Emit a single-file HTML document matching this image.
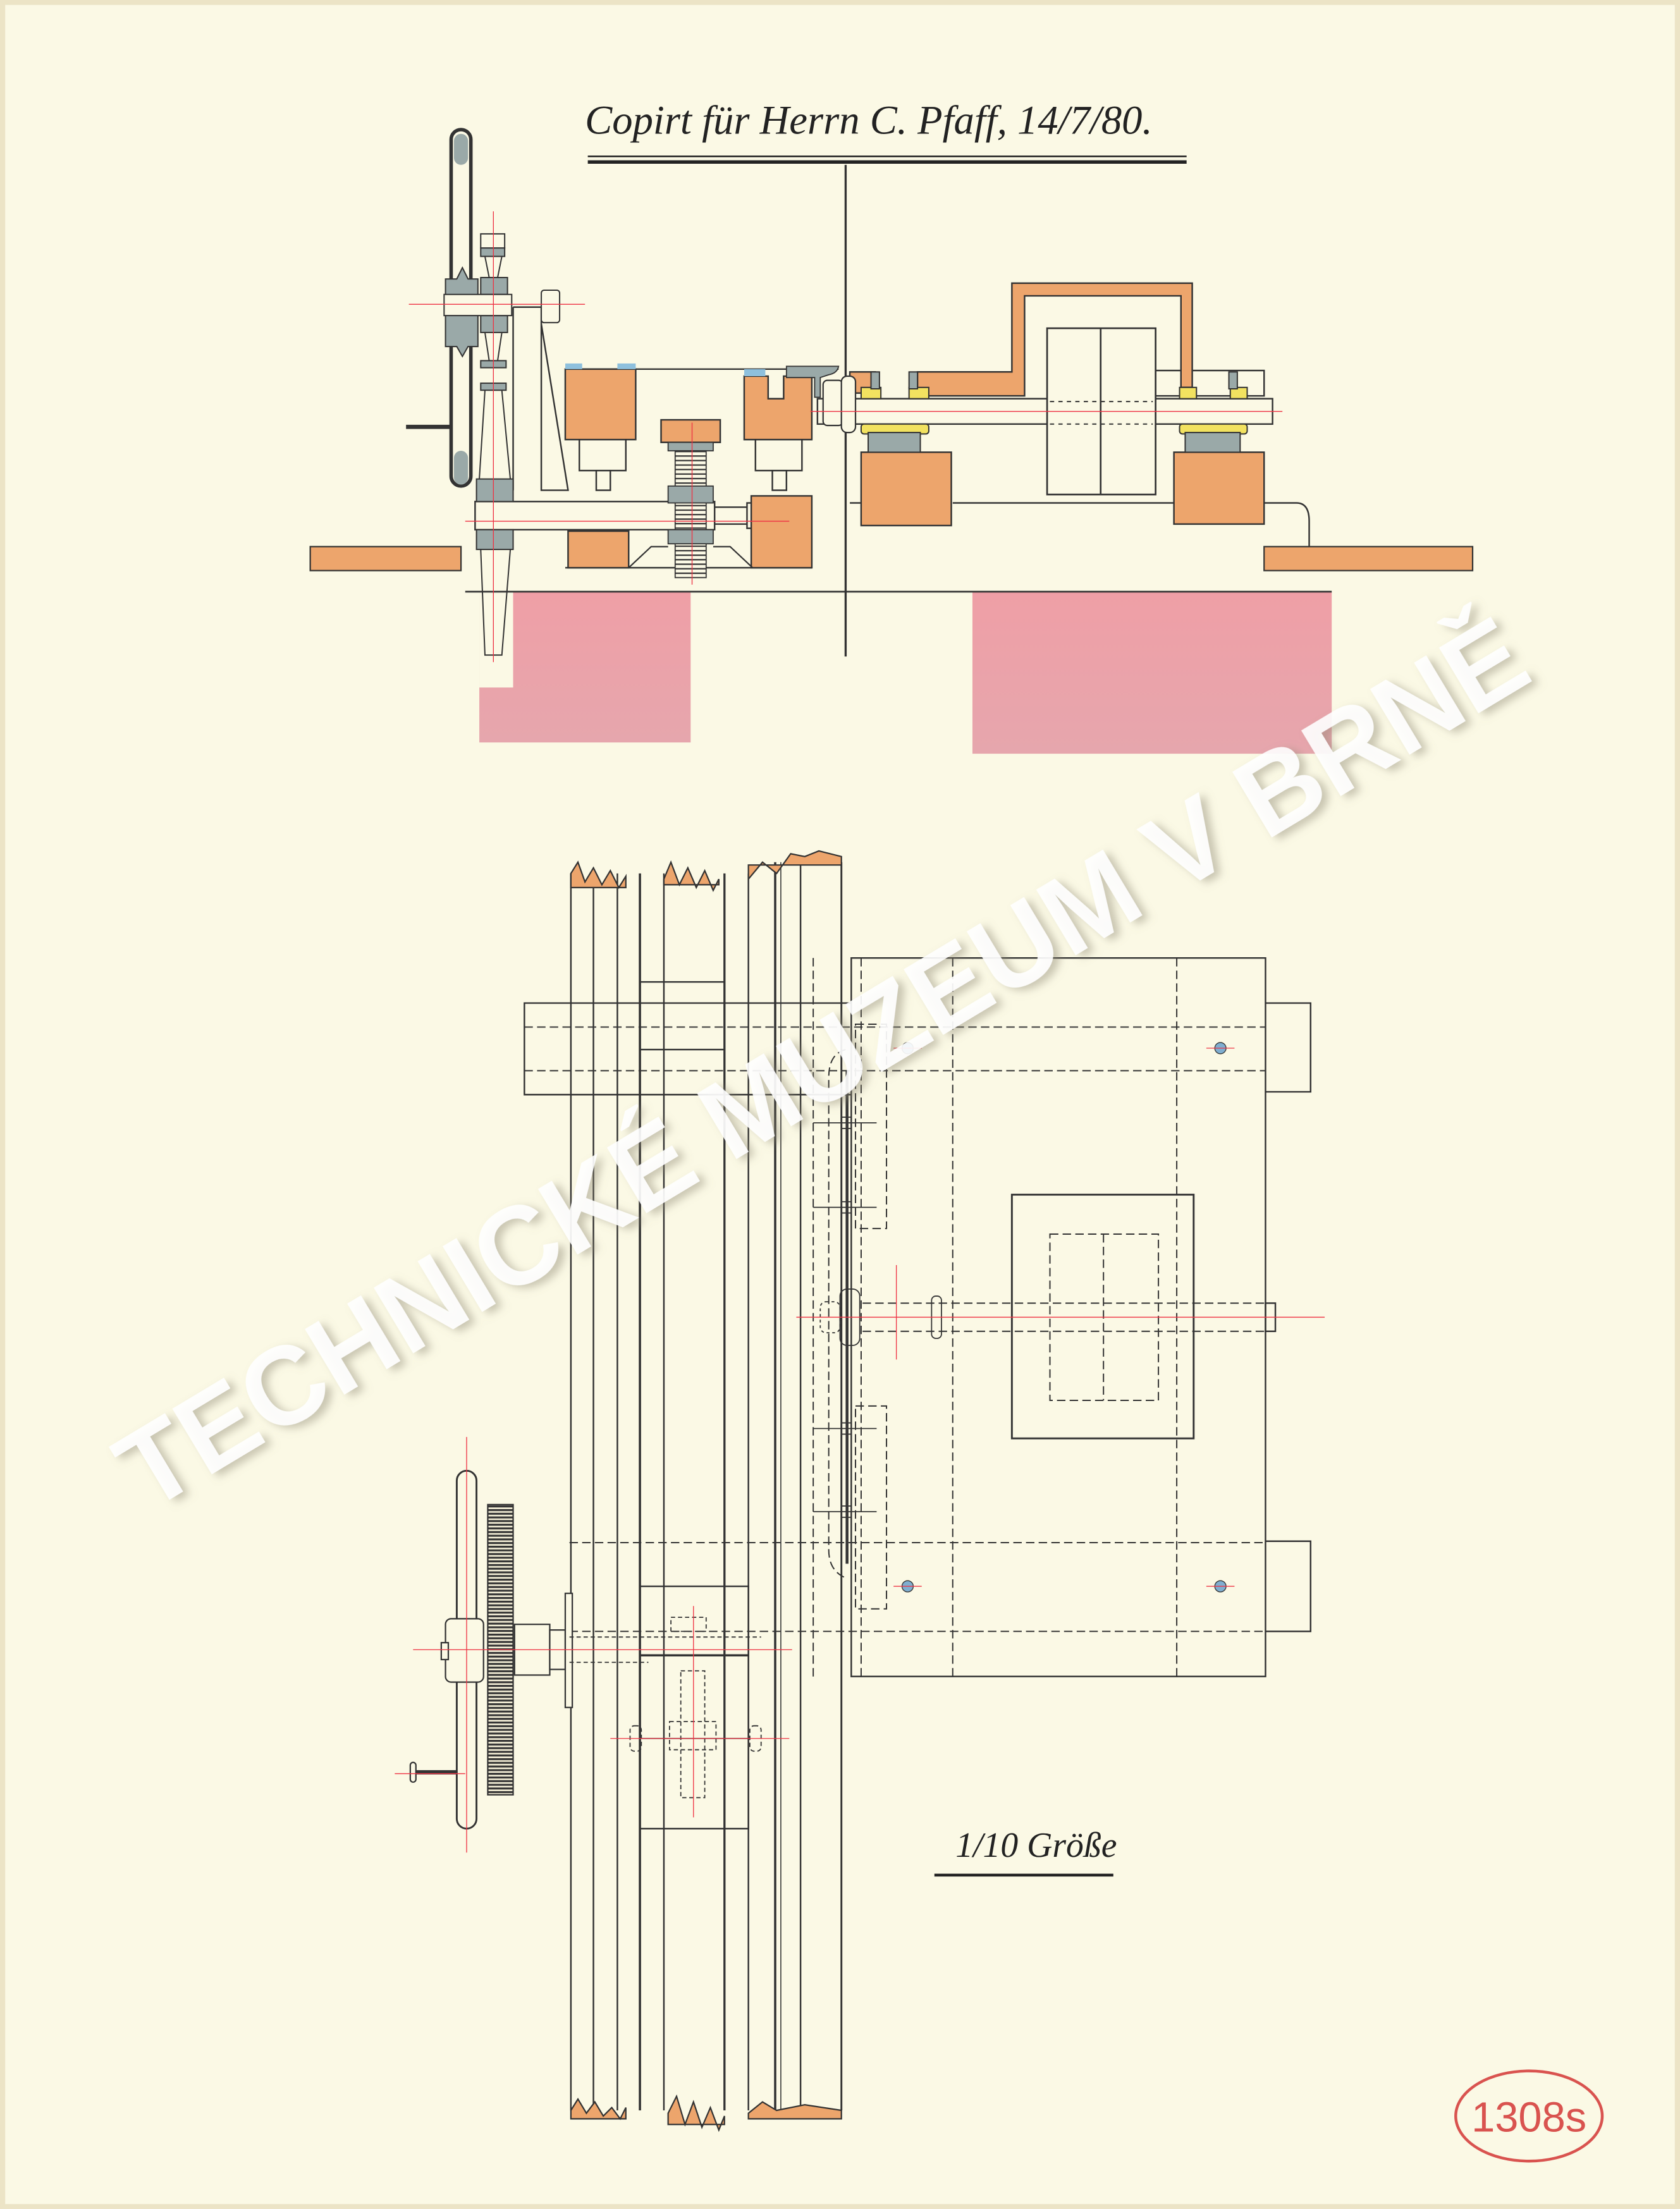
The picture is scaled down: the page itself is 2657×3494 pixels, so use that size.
<!DOCTYPE html>
<html><head><meta charset="utf-8"><style>
html,body{margin:0;padding:0;background:#fbf9e5;}
svg{display:block;}
</style></head><body>
<svg width="2657" height="3494" viewBox="0 0 1192 1568" xmlns="http://www.w3.org/2000/svg">
<defs>
<linearGradient id="pg" x1="0" y1="0" x2="0" y2="1"><stop offset="0" stop-color="#ef9fa6"/><stop offset="1" stop-color="#e6a6ad"/></linearGradient>
<pattern id="teeth" width="4" height="2.6" patternUnits="userSpaceOnUse"><rect width="4" height="2.6" fill="#f5f0d8"/><rect width="4" height="1.4" fill="#333"/></pattern>
<pattern id="thr" width="4" height="3.2" patternUnits="userSpaceOnUse"><rect width="4" height="3.2" fill="#fbf9e5"/><rect width="4" height="1" fill="#333"/></pattern>
<filter id="sh" x="-10%" y="-50%" width="120%" height="200%"><feDropShadow dx="3" dy="4" stdDeviation="3" flood-color="#8a8470" flood-opacity="0.5"/></filter>
</defs>
<rect width="1192" height="1568" fill="#fbf9e5"/>
<rect x="1" y="1" width="1190" height="1566" fill="none" stroke="#ece4c6" stroke-width="5"/>
<text x="415" y="95" font-family="Liberation Serif, serif" font-style="italic" font-size="29" fill="#222">Copirt für Herrn C. Pfaff, 14/7/80.</text>
<line x1="417" y1="111" x2="842" y2="111" stroke="#222" stroke-width="1.2"/>
<line x1="417" y1="115" x2="842" y2="115" stroke="#222" stroke-width="2.5"/>
<line x1="600" y1="117" x2="600" y2="466" stroke="#333" stroke-width="1.5"/>

<rect x="340" y="420" width="150" height="107" fill="url(#pg)"/>
<rect x="690" y="420" width="255" height="115" fill="url(#pg)"/>
<rect x="340" y="420" width="24" height="68" fill="#fbf9e5"/>
<line x1="330" y1="420" x2="945" y2="420" stroke="#333" stroke-width="1.2"/>
<rect x="220" y="388" width="107" height="17" fill="#eda56c" stroke="#333" stroke-width="1"/>
<rect x="897" y="388" width="148" height="17" fill="#eda56c" stroke="#333" stroke-width="1"/>

<g stroke="#333" stroke-width="1.1" fill="none">
<path d="M401 262 H595"/>
<path d="M401 403 H576"/>
<path d="M603 357 H611 M676 357 H833 M897 357 H920 Q929 357 929 370 V388"/>
<rect x="580" y="283" width="323" height="18" fill="#fbf9e5"/>
<rect x="337" y="356" width="170" height="20" fill="#fbf9e5"/>
<line x1="507" y1="360" x2="530" y2="360"/><line x1="507" y1="372" x2="530" y2="372"/>
<rect x="530" y="357" width="5" height="18"/>
<rect x="820" y="263" width="77" height="18"/>
<path d="M364 218 H384 V348 H403 L384 230"/>
<path d="M364 218 V348"/>
<rect x="411" y="312" width="33" height="22"/><rect x="423" y="334" width="10" height="14"/>
<rect x="536" y="312" width="33" height="22"/><rect x="548" y="334" width="10" height="14"/>
</g>
<g fill="#eda56c" stroke="#333" stroke-width="1.1">
<rect x="401" y="262" width="50" height="50"/>
<rect x="469" y="298" width="42" height="16"/>
<path d="M528 267 H545 V283 H556 V267 H576 V312 H528 Z"/>
<rect x="533" y="352" width="43" height="51"/>
<rect x="403" y="377" width="43" height="26"/>
<rect x="611" y="321" width="64" height="52"/>
<rect x="833" y="321" width="64" height="51"/>
<path d="M651 264 H718 V201 H846 V275 H838 V210 H727 V281 H651 Z"/>
<rect x="603" y="264" width="18" height="15"/>
</g>
<rect x="401" y="258" width="12" height="4" fill="#8ec0dd"/><rect x="438" y="258" width="13" height="4" fill="#8ec0dd"/>
<rect x="528" y="262" width="15" height="5" fill="#8ec0dd"/>
<path d="M558 260 H595 Q594 265 588 266 L582 268 V282 H578 V268 H558Z" fill="#9aa9a8" stroke="#333" stroke-width=".8"/>
<rect x="474" y="314" width="32" height="6" fill="#9aa9a8" stroke="#333" stroke-width=".8"/>
<rect x="479" y="320" width="22" height="90" fill="url(#thr)" stroke="#333" stroke-width=".8"/>
<rect x="474" y="345" width="32" height="12" fill="#9aa9a8" stroke="#333" stroke-width=".8"/>
<rect x="474" y="376" width="32" height="10" fill="#9aa9a8" stroke="#333" stroke-width=".8"/>
<path d="M446 403 L462 388 H474 M534 403 L518 388 H506" fill="none" stroke="#333"/>
<g stroke="#333" stroke-width=".9">
<rect x="611" y="275" width="14" height="8" fill="#f2e260"/><rect x="645" y="275" width="14" height="8" fill="#f2e260"/>
<rect x="611" y="301" width="48" height="7" rx="2" fill="#f2e260"/>
<rect x="837" y="275" width="12" height="8" fill="#f2e260"/><rect x="873" y="275" width="12" height="8" fill="#f2e260"/>
<rect x="837" y="301" width="48" height="7" rx="2" fill="#f2e260"/>
<rect x="616" y="307" width="37" height="14" fill="#9aa9a8"/>
<rect x="841" y="307" width="39" height="14" fill="#9aa9a8"/>
<rect x="618" y="264" width="6" height="12" fill="#9aa9a8"/><rect x="645" y="264" width="6" height="12" fill="#9aa9a8"/>
<rect x="872" y="264" width="6" height="12" fill="#9aa9a8"/>
</g>
<rect x="584" y="270" width="14" height="32" rx="3" fill="#fbf9e5" stroke="#333"/>
<rect x="597" y="267" width="10" height="40" rx="4" fill="#fbf9e5" stroke="#333"/>
<rect x="743" y="233" width="77" height="118" fill="#fbf9e5" stroke="#333" stroke-width="1.2"/>
<line x1="781" y1="233" x2="781" y2="351" stroke="#333" stroke-width="1.2"/>
<g stroke="#333" stroke-dasharray="3 3" stroke-width=".9"><line x1="745" y1="285" x2="818" y2="285"/><line x1="745" y1="301" x2="818" y2="301"/></g>
<rect x="320" y="92" width="14" height="253" rx="7" fill="#fbf9e5" stroke="#333" stroke-width="2.5"/>
<rect x="322" y="320" width="10" height="24" rx="5" fill="#9aa9a8"/>
<rect x="322" y="95" width="10" height="22" rx="5" fill="#9aa9a8"/>
<g fill="#9aa9a8" stroke="#333" stroke-width=".9">
<path d="M316 198 H324 L328 190 L332 198 H339 V246 H332 L328 253 L324 246 H316Z"/>
<rect x="341" y="197" width="19" height="12"/><rect x="341" y="224" width="19" height="12"/>
<rect x="341" y="176" width="17" height="6"/>
<rect x="341" y="256" width="18" height="5"/><rect x="341" y="272" width="18" height="5"/>
<rect x="338" y="340" width="26" height="16"/><rect x="338" y="376" width="26" height="14"/>
</g>
<rect x="315" y="209" width="48" height="15" fill="#fbf9e5" stroke="#333" stroke-width=".9"/>
<rect x="341" y="166" width="17" height="10" fill="#fbf9e5" stroke="#333" stroke-width=".9"/>
<rect x="384" y="206" width="13" height="23" rx="2" fill="#fbf9e5" stroke="#333" stroke-width=".9"/>
<g stroke="#333" stroke-width=".9" fill="none">
<path d="M344 182 L347 197 M356 182 L353 197 M344 236 L347 256 M356 236 L353 256 M344 277 L340 340 M356 277 L362 340"/>
<path d="M341 390 L344 465 H356 L362 390"/>
</g>
<line x1="288" y1="303" x2="320" y2="303" stroke="#333" stroke-width="3"/>
<g stroke="#e34" stroke-width=".6">
<line x1="290" y1="216" x2="415" y2="216"/><line x1="330" y1="370" x2="560" y2="370"/>
<line x1="575" y1="292" x2="910" y2="292"/><line x1="350" y1="150" x2="350" y2="470"/>
<line x1="491" y1="300" x2="491" y2="415"/>
</g>

<g stroke="#333" stroke-width="1.1" fill="none">
<line x1="405" y1="620" x2="405" y2="1498"/>
<line x1="421" y1="620" x2="421" y2="1498"/>
<line x1="438" y1="620" x2="438" y2="1498"/>
<line x1="454" y1="620" x2="454" y2="1498" stroke-width="1.6"/>
<line x1="471" y1="620" x2="471" y2="1498"/>
<line x1="514" y1="620" x2="514" y2="1498" stroke-width="1.5"/>
<line x1="531" y1="620" x2="531" y2="1498"/>
<line x1="550" y1="612" x2="550" y2="1498" stroke-width="1.6"/>
<line x1="554" y1="612" x2="554" y2="1498" stroke-width=".7"/>
<line x1="568" y1="612" x2="568" y2="1498"/>
<line x1="597" y1="612" x2="597" y2="1498" stroke-width="1.3"/>
<rect x="604" y="680" width="294" height="510"/>
<path d="M604 712 H372 V777 H604"/>
<path d="M898 712 H930 V775 H898"/>
<path d="M898 1094 H930 V1158 H898"/>
<rect x="718" y="848" width="129" height="173" stroke-width="1.3"/>
<rect x="454" y="697" width="60" height="48"/>
<rect x="454" y="1126" width="77" height="172"/>
<rect x="898" y="925" width="7" height="20"/>
</g>
<g stroke="#333" stroke-width=".9" fill="none" stroke-dasharray="6 3">
<rect x="745" y="876" width="77" height="118"/>
<line x1="783" y1="876" x2="783" y2="994"/>
<line x1="372" y1="729" x2="898" y2="729"/>
<line x1="372" y1="760" x2="898" y2="760"/>
<line x1="404" y1="1095" x2="898" y2="1095"/>
<line x1="404" y1="1158" x2="898" y2="1158"/>
<line x1="611" y1="680" x2="611" y2="1190"/>
<line x1="676" y1="680" x2="676" y2="1190"/>
<line x1="835" y1="680" x2="835" y2="1190"/>
<line x1="577" y1="680" x2="577" y2="1190"/>
<rect x="607" y="727" width="22" height="145"/>
<rect x="607" y="998" width="22" height="144"/>
<line x1="612" y1="925" x2="898" y2="925"/>
<line x1="612" y1="945" x2="898" y2="945"/>
<path d="M600 745 Q588 748 588 765 V1100 Q588 1115 600 1120"/>
</g>
<line x1="601" y1="760" x2="601" y2="1110" stroke="#333" stroke-width="2"/>
<g stroke="#333" stroke-width=".8" fill="none">
<line x1="577" y1="797" x2="622" y2="797"/><line x1="577" y1="857" x2="622" y2="857"/>
<line x1="577" y1="1014" x2="622" y2="1014"/><line x1="577" y1="1073" x2="622" y2="1073"/>
<rect x="597" y="793" width="7" height="8"/><rect x="597" y="853" width="7" height="8"/>
<rect x="597" y="1010" width="7" height="8"/><rect x="597" y="1069" width="7" height="8"/>
<rect x="596" y="915" width="14" height="40" rx="5"/>
<rect x="661" y="920" width="7" height="30" rx="3"/>
<rect x="582" y="924" width="14" height="22" rx="4" stroke-dasharray="2 2"/>
</g>
<line x1="565" y1="935" x2="940" y2="935" stroke="#e34" stroke-width=".6"/>
<line x1="636" y1="898" x2="636" y2="965" stroke="#e34" stroke-width=".6"/>
<g fill="#7faed0" stroke="#333" stroke-width=".6">
<circle cx="644" cy="744" r="4"/><circle cx="866" cy="744" r="4"/>
<circle cx="644" cy="1126" r="4"/><circle cx="866" cy="1126" r="4"/>
</g>
<g stroke="#e34" stroke-width=".6">
<line x1="634" y1="744" x2="654" y2="744"/><line x1="856" y1="744" x2="876" y2="744"/>
<line x1="634" y1="1126" x2="654" y2="1126"/><line x1="856" y1="1126" x2="876" y2="1126"/>
</g>
<g fill="#eda56c" stroke="#333" stroke-width="1">
<path d="M405 620 l5 -8 l5 14 l6 -10 l6 12 l6 -10 l6 12 l5 -8 v8 h-39Z"/>
<path d="M471 624 l5 -12 l6 16 l6 -12 l6 14 l6 -12 l6 14 l4 -8 v4 h-39Z"/>
<path d="M531 624 l10 -12 l10 8 l10 -14 l10 2 l10 -4 l16 4 v6 h-66Z"/>
<path d="M405 1498 l5 -8 l6 10 l6 -8 l6 10 l6 -6 l6 8 l4 -8 v8 h-39Z"/>
<path d="M474 1500 l6 -12 l6 20 l6 -16 l6 18 l6 -14 l6 16 l4 -10 v6 h-40Z"/>
<path d="M531 1500 l10 -8 l10 6 l20 -4 l26 4 v6 h-66Z"/>
</g>
<rect x="324" y="1044" width="14" height="254" rx="7" fill="#fbf9e5" stroke="#333" stroke-width="1.3"/>
<rect x="346" y="1068" width="18" height="206" fill="url(#teeth)" stroke="#333" stroke-width="1"/>
<rect x="316" y="1149" width="27" height="45" rx="4" fill="#fbf9e5" stroke="#333"/>
<rect x="313" y="1166" width="5" height="12" fill="#fbf9e5" stroke="#333"/>
<rect x="365" y="1153" width="25" height="36" fill="#fbf9e5" stroke="#333"/>
<rect x="390" y="1157" width="11" height="28" fill="#fbf9e5" stroke="#333"/>
<rect x="401" y="1131" width="5" height="81" fill="#fbf9e5" stroke="#333"/>
<line x1="292" y1="1258" x2="324" y2="1258" stroke="#333" stroke-width="3"/>
<rect x="291" y="1251" width="4" height="14" rx="2" fill="#fbf9e5" stroke="#333"/>
<line x1="454" y1="1175" x2="531" y2="1175" stroke="#333" stroke-width="1.6"/>
<g stroke="#333" stroke-width=".8" fill="none" stroke-dasharray="3 2">
<rect x="476" y="1148" width="25" height="10"/>
<rect x="483" y="1186" width="17" height="90"/>
<rect x="475" y="1222" width="33" height="20"/>
<rect x="447" y="1225" width="8" height="18" rx="3"/><rect x="532" y="1225" width="8" height="18" rx="3"/>
<line x1="404" y1="1162" x2="540" y2="1162"/><line x1="404" y1="1180" x2="460" y2="1180"/>
</g>
<line x1="455" y1="1234" x2="532" y2="1234" stroke="#333" stroke-width=".8"/>
<g stroke="#e34" stroke-width=".6">
<line x1="293" y1="1171" x2="562" y2="1171"/><line x1="331" y1="1020" x2="331" y2="1315"/>
<line x1="433" y1="1234" x2="560" y2="1234"/><line x1="492" y1="1140" x2="492" y2="1290"/>
<line x1="280" y1="1259" x2="330" y2="1259"/>
</g>

<text x="678" y="1318" font-family="Liberation Serif, serif" font-style="italic" font-size="25" fill="#222">1/10 Größe</text>
<line x1="663" y1="1331" x2="790" y2="1331" stroke="#222" stroke-width="2"/>

<ellipse cx="1085" cy="1502" rx="52" ry="32" fill="none" stroke="#d9534f" stroke-width="2"/>
<text x="1085" y="1513" text-anchor="middle" font-family="Liberation Sans, sans-serif" font-size="30" fill="#d9534f">1308s</text>

<text x="0" y="0" transform="translate(597,778) rotate(-31)" text-anchor="middle" font-family="Liberation Sans, sans-serif" font-weight="bold" font-size="79" fill="#ffffff" fill-opacity="0.9" filter="url(#sh)">TECHNICKÉ MUZEUM V BRNĚ</text>
</svg>
</body></html>
